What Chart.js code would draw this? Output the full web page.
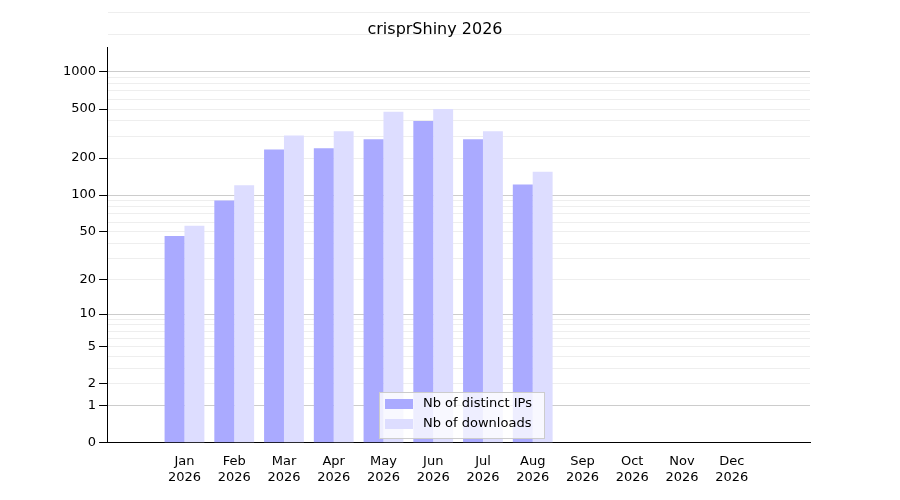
<!DOCTYPE html>
<html>
<head>
<script src="https://cdn.jsdelivr.net/npm/chart.js@4"></script>
<style>body{margin:0;background:#fff}</style>
</head>
<body>
<canvas id="c" width="900" height="500"></canvas>
<script>
const months = ['Jan','Feb','Mar','Apr','May','Jun','Jul','Aug','Sep','Oct','Nov','Dec'];
const year = '2026';
const ips = [46, 90, 235, 240, 285, 400, 285, 122, 0, 0, 0, 0];
const downloads = [56, 120, 305, 330, 475, 500, 330, 155, 0, 0, 0, 0];
const labelTicks = [0, 1, 2, 5, 10, 20, 50, 100, 200, 500, 1000];
const majorTicks = [1, 10, 100, 1000];

const tf = v => Math.log10(1 + v);
let minorTicks = [];
[1, 10, 100, 1000].forEach(d => { for (let k = 2; k <= 9; k++) minorTicks.push(k * d); });
const allTicks = [...new Set([...labelTicks, ...minorTicks])].sort((a, b) => a - b);

const legendPlugin = {
  id: 'boxLegend',
  afterDraw(chart) {
    const ctx = chart.ctx, x = 379, y = 392, w = 165, h = 46;
    ctx.save();
    ctx.fillStyle = 'rgba(255,255,255,0.8)';
    ctx.strokeStyle = '#ccc';
    ctx.fillRect(x, y, w, h); ctx.strokeRect(x + 0.5, y + 0.5, w, h);
    ctx.font = '13px "DejaVu Sans"';
    ctx.textBaseline = 'middle';
    [['#aaaaff', 'Nb of distinct IPs'], ['#ddddff', 'Nb of downloads']].forEach((it, i) => {
      ctx.fillStyle = it[0];
      ctx.fillRect(x + 6, y + 7 + i * 20, 28, 10);
      ctx.fillStyle = '#000';
      ctx.fillText(it[1], x + 44, y + 12 + i * 20);
    });
    ctx.restore();
  }
};

new Chart(document.getElementById('c'), {
  type: 'bar',
  data: {
    datasets: [
      { label: 'Nb of distinct IPs', data: ips.map((v, i) => ({ x: i, y: tf(v) })), backgroundColor: '#aaaaff' },
      { label: 'Nb of downloads', data: downloads.map((v, i) => ({ x: i, y: tf(v) })), backgroundColor: '#ddddff' }
    ]
  },
  options: {
    responsive: false,
    animation: false,
    layout: { padding: { left: 60, right: 90, top: 20, bottom: 12 } },
    categoryPercentage: 0.8,
    barPercentage: 1,
    plugins: {
      legend: { display: false },
      tooltip: { enabled: false },
      title: { display: true, text: 'crisprShiny 2026', color: '#000', font: { family: 'DejaVu Sans', size: 16, weight: 'normal' }, padding: { bottom: 8 } }
    },
    scales: {
      x: {
        type: 'linear', min: -0.967, max: 11.985,
        grid: { display: false, drawTicks: true },
        border: { color: '#000' },
        afterBuildTicks: s => { s.ticks = months.map((m, i) => ({ value: i })); },
        ticks: { color: '#000', font: { family: 'DejaVu Sans', size: 13 }, autoSkip: false, maxRotation: 0,
          callback: v => [months[v], year] }
      },
      y: {
        type: 'linear', min: 0, max: 3.2,
        border: { color: '#000' },
        afterBuildTicks: s => { s.ticks = allTicks.map(v => ({ value: tf(v) })); },
        grid: {
          color: c => {
            const v = Math.round(Math.pow(10, c.tick.value) - 1);
            return majorTicks.includes(v) ? '#cccccc' : (v === 0 ? 'rgba(0,0,0,0)' : '#eeeeee');
          },
          tickColor: c => {
            const v = Math.round(Math.pow(10, c.tick.value) - 1);
            return labelTicks.includes(v) ? '#000' : 'rgba(0,0,0,0)';
          }
        },
        ticks: { color: '#000', font: { family: 'DejaVu Sans', size: 13 }, autoSkip: false,
          callback: v => { const n = Math.round(Math.pow(10, v) - 1); return labelTicks.includes(n) ? String(n) : ''; } }
      }
    }
  },
  plugins: [legendPlugin]
});
</script>
</body>
</html>
